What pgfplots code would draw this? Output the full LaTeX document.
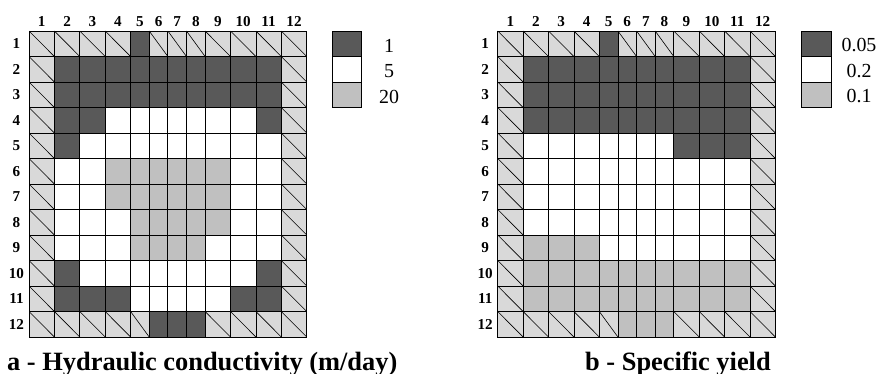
\documentclass[border=0pt]{standalone}
\usepackage{pgfplots}
\pgfplotsset{compat=1.18}
\usepackage{pgfplotstable}
\usepackage{fontspec}
\setmainfont{Liberation Serif}
\definecolor{dk}{HTML}{595959}
\definecolor{md}{HTML}{C0C0C0}
\definecolor{lt}{HTML}{D9D9D9}
\newcommand{\tickfont}{\fontsize{15.2}{17}\selectfont\bfseries}
\newcommand{\legfont}{\fontsize{20}{22}\selectfont}
\newcommand{\titfont}{\fontsize{26.5}{28}\selectfont\bfseries}
\newcommand{\tl}[1]{\textbf{#1}}
% diagonals of the boundary cells: start (x,y), offset (u,v)
\pgfplotstableread{
x y u v
0 12 1 -1
1 12 1 -1
2 12 1 -1
3 12 1 -1
4.733 12 0.734 -1
5.467 12 0.733 -1
6.2 12 0.733 -1
6.933 12 1 -1
7.933 12 1 -1
8.933 12 1 -1
9.933 12 1 -1
0 1 1 -1
1 1 1 -1
2 1 1 -1
3 1 1 -1
4 1 0.733 -1
6.933 1 1 -1
7.933 1 1 -1
8.933 1 1 -1
9.933 1 1 -1
0 11 1 -1
0 10 1 -1
0 9 1 -1
0 8 1 -1
0 7 1 -1
0 6 1 -1
0 5 1 -1
0 4 1 -1
0 3 1 -1
0 2 1 -1
9.933 11 1 -1
9.933 10 1 -1
9.933 9 1 -1
9.933 8 1 -1
9.933 7 1 -1
9.933 6 1 -1
9.933 5 1 -1
9.933 4 1 -1
9.933 3 1 -1
9.933 2 1 -1
}\diagtable
\pgfplotsset{
  gridmap/.style={
    anchor=north west,
    x=25.4bp, y=25.5bp,
    xmin=0, xmax=10.933, ymin=0, ymax=12,
    enlargelimits=false,
    axis on top,
    xtick={0.5,1.5,2.5,3.5,4.3665,5.1,5.8335,6.5665,7.433,8.433,9.433,10.433},
    xticklabels={\tl{1},\tl{2},\tl{3},\tl{4},\tl{5},\tl{6},\tl{7},\tl{8},\tl{9},\tl{10},\tl{11},\tl{12}},
    ytick={0.5,1.5,...,11.5},
    yticklabels={\tl{12},\tl{11},\tl{10},\tl{9},\tl{8},\tl{7},\tl{6},\tl{5},\tl{4},\tl{3},\tl{2},\tl{1}},
    xticklabel pos=upper,
    major tick length=0pt,
    minor xtick={0,1,2,3,4,4.733,5.467,6.2,6.933,7.933,8.933,9.933,10.933},
    minor ytick={0,1,...,12},
    minor tick length=0pt,
    xminorgrids=true, yminorgrids=true,
    minor grid style={black, line width=0.8bp},
    axis line style={black, line width=0.9bp},
    tick label style={font=\tickfont},
    xticklabel style={anchor=center, yshift=9.5bp},
    yticklabel style={anchor=center, xshift=-12.5bp},
    colormap={cls}{color=(lt) color=(dk) color=(white) color=(md)},
    colormap access=direct,
    point meta min=0, point meta max=3,
  },
  cells/.style={surf, shader=flat corner, mesh/cols=13, point meta=explicit},
}
\begin{document}
\begin{tikzpicture}
\path[use as bounding box] (0,0) rectangle (877bp,-374bp);
% ---- a: hydraulic conductivity; class 0 = boundary, 1 = 1 m/day, 2 = 5 m/day, 3 = 20 m/day
% each cell takes the class of its lower-left corner
\begin{axis}[gridmap, at={(29bp,-31bp)}]
\addplot[cells] coordinates {
(0,0)[0] (1,0)[0] (2,0)[0] (3,0)[0] (4,0)[0] (4.733,0)[1] (5.467,0)[1] (6.2,0)[1] (6.933,0)[0] (7.933,0)[0] (8.933,0)[0] (9.933,0)[0] (10.933,0)[0]
(0,1)[0] (1,1)[1] (2,1)[1] (3,1)[1] (4,1)[2] (4.733,1)[2] (5.467,1)[2] (6.2,1)[2] (6.933,1)[2] (7.933,1)[1] (8.933,1)[1] (9.933,1)[0] (10.933,1)[0]
(0,2)[0] (1,2)[1] (2,2)[2] (3,2)[2] (4,2)[2] (4.733,2)[2] (5.467,2)[2] (6.2,2)[2] (6.933,2)[2] (7.933,2)[2] (8.933,2)[1] (9.933,2)[0] (10.933,2)[0]
(0,3)[0] (1,3)[2] (2,3)[2] (3,3)[2] (4,3)[3] (4.733,3)[3] (5.467,3)[3] (6.2,3)[3] (6.933,3)[2] (7.933,3)[2] (8.933,3)[2] (9.933,3)[0] (10.933,3)[0]
(0,4)[0] (1,4)[2] (2,4)[2] (3,4)[2] (4,4)[3] (4.733,4)[3] (5.467,4)[3] (6.2,4)[3] (6.933,4)[3] (7.933,4)[2] (8.933,4)[2] (9.933,4)[0] (10.933,4)[0]
(0,5)[0] (1,5)[2] (2,5)[2] (3,5)[3] (4,5)[3] (4.733,5)[3] (5.467,5)[3] (6.2,5)[3] (6.933,5)[3] (7.933,5)[2] (8.933,5)[2] (9.933,5)[0] (10.933,5)[0]
(0,6)[0] (1,6)[2] (2,6)[2] (3,6)[3] (4,6)[3] (4.733,6)[3] (5.467,6)[3] (6.2,6)[3] (6.933,6)[3] (7.933,6)[2] (8.933,6)[2] (9.933,6)[0] (10.933,6)[0]
(0,7)[0] (1,7)[1] (2,7)[2] (3,7)[2] (4,7)[2] (4.733,7)[2] (5.467,7)[2] (6.2,7)[2] (6.933,7)[2] (7.933,7)[2] (8.933,7)[2] (9.933,7)[0] (10.933,7)[0]
(0,8)[0] (1,8)[1] (2,8)[1] (3,8)[2] (4,8)[2] (4.733,8)[2] (5.467,8)[2] (6.2,8)[2] (6.933,8)[2] (7.933,8)[2] (8.933,8)[1] (9.933,8)[0] (10.933,8)[0]
(0,9)[0] (1,9)[1] (2,9)[1] (3,9)[1] (4,9)[1] (4.733,9)[1] (5.467,9)[1] (6.2,9)[1] (6.933,9)[1] (7.933,9)[1] (8.933,9)[1] (9.933,9)[0] (10.933,9)[0]
(0,10)[0] (1,10)[1] (2,10)[1] (3,10)[1] (4,10)[1] (4.733,10)[1] (5.467,10)[1] (6.2,10)[1] (6.933,10)[1] (7.933,10)[1] (8.933,10)[1] (9.933,10)[0] (10.933,10)[0]
(0,11)[0] (1,11)[0] (2,11)[0] (3,11)[0] (4,11)[1] (4.733,11)[0] (5.467,11)[0] (6.2,11)[0] (6.933,11)[0] (7.933,11)[0] (8.933,11)[0] (9.933,11)[0] (10.933,11)[0]
(0,12)[0] (1,12)[0] (2,12)[0] (3,12)[0] (4,12)[0] (4.733,12)[0] (5.467,12)[0] (6.2,12)[0] (6.933,12)[0] (7.933,12)[0] (8.933,12)[0] (9.933,12)[0] (10.933,12)[0]
};
\addplot[black, line width=0.6bp, quiver={u=\thisrow{u}, v=\thisrow{v}}] table[x=x, y=y] {\diagtable};
\end{axis}
% ---- b: specific yield; class 0 = boundary, 1 = 0.05, 2 = 0.2, 3 = 0.1
\begin{axis}[gridmap, at={(497.7bp,-31bp)}]
\addplot[cells] coordinates {
(0,0)[0] (1,0)[0] (2,0)[0] (3,0)[0] (4,0)[0] (4.733,0)[3] (5.467,0)[3] (6.2,0)[3] (6.933,0)[0] (7.933,0)[0] (8.933,0)[0] (9.933,0)[0] (10.933,0)[0]
(0,1)[0] (1,1)[3] (2,1)[3] (3,1)[3] (4,1)[3] (4.733,1)[3] (5.467,1)[3] (6.2,1)[3] (6.933,1)[3] (7.933,1)[3] (8.933,1)[3] (9.933,1)[0] (10.933,1)[0]
(0,2)[0] (1,2)[3] (2,2)[3] (3,2)[3] (4,2)[3] (4.733,2)[3] (5.467,2)[3] (6.2,2)[3] (6.933,2)[3] (7.933,2)[3] (8.933,2)[3] (9.933,2)[0] (10.933,2)[0]
(0,3)[0] (1,3)[3] (2,3)[3] (3,3)[3] (4,3)[2] (4.733,3)[2] (5.467,3)[2] (6.2,3)[2] (6.933,3)[2] (7.933,3)[2] (8.933,3)[2] (9.933,3)[0] (10.933,3)[0]
(0,4)[0] (1,4)[2] (2,4)[2] (3,4)[2] (4,4)[2] (4.733,4)[2] (5.467,4)[2] (6.2,4)[2] (6.933,4)[2] (7.933,4)[2] (8.933,4)[2] (9.933,4)[0] (10.933,4)[0]
(0,5)[0] (1,5)[2] (2,5)[2] (3,5)[2] (4,5)[2] (4.733,5)[2] (5.467,5)[2] (6.2,5)[2] (6.933,5)[2] (7.933,5)[2] (8.933,5)[2] (9.933,5)[0] (10.933,5)[0]
(0,6)[0] (1,6)[2] (2,6)[2] (3,6)[2] (4,6)[2] (4.733,6)[2] (5.467,6)[2] (6.2,6)[2] (6.933,6)[2] (7.933,6)[2] (8.933,6)[2] (9.933,6)[0] (10.933,6)[0]
(0,7)[0] (1,7)[2] (2,7)[2] (3,7)[2] (4,7)[2] (4.733,7)[2] (5.467,7)[2] (6.2,7)[2] (6.933,7)[1] (7.933,7)[1] (8.933,7)[1] (9.933,7)[0] (10.933,7)[0]
(0,8)[0] (1,8)[1] (2,8)[1] (3,8)[1] (4,8)[1] (4.733,8)[1] (5.467,8)[1] (6.2,8)[1] (6.933,8)[1] (7.933,8)[1] (8.933,8)[1] (9.933,8)[0] (10.933,8)[0]
(0,9)[0] (1,9)[1] (2,9)[1] (3,9)[1] (4,9)[1] (4.733,9)[1] (5.467,9)[1] (6.2,9)[1] (6.933,9)[1] (7.933,9)[1] (8.933,9)[1] (9.933,9)[0] (10.933,9)[0]
(0,10)[0] (1,10)[1] (2,10)[1] (3,10)[1] (4,10)[1] (4.733,10)[1] (5.467,10)[1] (6.2,10)[1] (6.933,10)[1] (7.933,10)[1] (8.933,10)[1] (9.933,10)[0] (10.933,10)[0]
(0,11)[0] (1,11)[0] (2,11)[0] (3,11)[0] (4,11)[1] (4.733,11)[0] (5.467,11)[0] (6.2,11)[0] (6.933,11)[0] (7.933,11)[0] (8.933,11)[0] (9.933,11)[0] (10.933,11)[0]
(0,12)[0] (1,12)[0] (2,12)[0] (3,12)[0] (4,12)[0] (4.733,12)[0] (5.467,12)[0] (6.2,12)[0] (6.933,12)[0] (7.933,12)[0] (8.933,12)[0] (9.933,12)[0] (10.933,12)[0]
};
\addplot[black, line width=0.6bp, quiver={u=\thisrow{u}, v=\thisrow{v}}] table[x=x, y=y] {\diagtable};
\end{axis}
% ---- legends
\begin{scope}[line width=0.9bp]
\draw[fill=dk] (332bp,-31bp) rectangle (361.7bp,-56.5bp);
\draw[fill=white] (332bp,-56.5bp) rectangle (361.7bp,-82bp);
\draw[fill=md] (332bp,-82bp) rectangle (361.7bp,-107.5bp);
\draw[fill=dk] (801.7bp,-31bp) rectangle (831bp,-56.5bp);
\draw[fill=white] (801.7bp,-56.5bp) rectangle (831bp,-82bp);
\draw[fill=md] (801.7bp,-82bp) rectangle (831bp,-107.5bp);
\end{scope}
\node[font=\legfont, inner sep=0] at (389bp,-45.5bp) {1};
\node[font=\legfont, inner sep=0] at (389bp,-71bp) {5};
\node[font=\legfont, inner sep=0] at (389bp,-96.5bp) {20};
\node[font=\legfont, inner sep=0] at (859bp,-45.5bp) {0.05};
\node[font=\legfont, inner sep=0] at (859bp,-71bp) {0.2};
\node[font=\legfont, inner sep=0] at (859bp,-96.5bp) {0.1};
% ---- titles
\node[font=\titfont, anchor=base west, inner sep=0] at (7bp,-370.7bp) {a - Hydraulic conductivity (m/day)};
\node[font=\titfont, anchor=base west, inner sep=0] at (585bp,-370.7bp) {b - Specific yield};
\end{tikzpicture}
\end{document}
